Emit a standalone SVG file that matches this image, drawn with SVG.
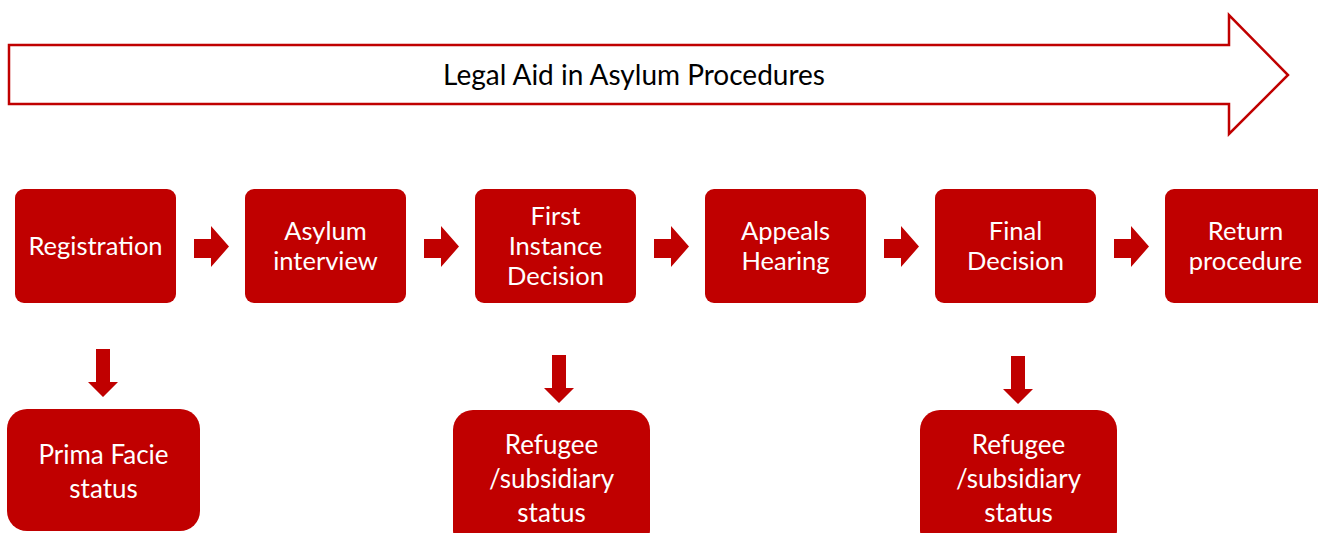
<svg xmlns="http://www.w3.org/2000/svg" width="1318" height="533" viewBox="0 0 1318 533">
<style>
.box{fill:#c00000;}
.t{font-family:Lato,"Open Sans",sans-serif;font-size:25.5px;fill:#ffffff;text-anchor:middle;}
.tb{font-family:Lato,"Open Sans",sans-serif;font-size:26px;fill:#ffffff;text-anchor:middle;}
.arr{fill:#c00000;}
</style>
<rect width="1318" height="533" fill="#ffffff"/>
<g id="banner">
<path d="M9,45 H1229 V15 L1288,75 L1229,134 V104 H9 Z" fill="#ffffff" stroke="#c00000" stroke-width="2.5"/>
<text x="634" y="85" font-family="Lato,'Open Sans',sans-serif" font-size="28" fill="#000000" text-anchor="middle">Legal Aid in Asylum Procedures</text>
</g>
<g id="registration"><rect class="box" x="15" y="189" width="161" height="114" rx="9"/><text class="t" x="95.5" y="255">Registration</text></g>
<g id="asylum-interview"><rect class="box" x="245" y="189" width="161" height="114" rx="9"/><text class="t" x="325.5" y="240">Asylum</text><text class="t" x="325.5" y="270">interview</text></g>
<g id="first-instance"><rect class="box" x="475" y="189" width="161" height="114" rx="9"/><text class="t" x="555.5" y="225">First</text><text class="t" x="555.5" y="255">Instance</text><text class="t" x="555.5" y="285">Decision</text></g>
<g id="appeals-hearing"><rect class="box" x="705" y="189" width="161" height="114" rx="9"/><text class="t" x="785.5" y="240">Appeals</text><text class="t" x="785.5" y="270">Hearing</text></g>
<g id="final-decision"><rect class="box" x="935" y="189" width="161" height="114" rx="9"/><text class="t" x="1015.5" y="240">Final</text><text class="t" x="1015.5" y="270">Decision</text></g>
<g id="return-procedure"><rect class="box" x="1165" y="189" width="170" height="114" rx="9"/><text class="t" x="1245.5" y="240">Return</text><text class="t" x="1245.5" y="270">procedure</text></g>
<g id="prima-facie"><rect class="box" x="7" y="409" width="193" height="122" rx="20"/><text class="tb" x="103.5" y="464">Prima Facie</text><text class="tb" x="103.5" y="498">status</text></g>
<g id="refugee-1"><rect class="box" x="453" y="410" width="197" height="140" rx="20"/><text class="tb" x="551.5" y="454">Refugee</text><text class="tb" x="551.5" y="488">/subsidiary</text><text class="tb" x="551.5" y="522">status</text></g>
<g id="refugee-2"><rect class="box" x="920" y="410" width="197" height="140" rx="20"/><text class="tb" x="1018.5" y="454">Refugee</text><text class="tb" x="1018.5" y="488">/subsidiary</text><text class="tb" x="1018.5" y="522">status</text></g>
<g id="connectors">
<defs><path id="ra" d="M0,13 H17 V0 L35,20.5 L17,41 V32 H0 Z"/><path id="da" d="M8,0 H22 V33 H30 L15,48 L0,33 H8 Z"/></defs>
<use href="#ra" class="arr" x="194" y="226"/>
<use href="#ra" class="arr" x="424" y="226"/>
<use href="#ra" class="arr" x="654" y="226"/>
<use href="#ra" class="arr" x="884" y="226"/>
<use href="#ra" class="arr" x="1114" y="226"/>
<use href="#da" class="arr" x="88" y="349"/>
<use href="#da" class="arr" x="544" y="355"/>
<use href="#da" class="arr" x="1003" y="356"/>
</g>
</svg>
